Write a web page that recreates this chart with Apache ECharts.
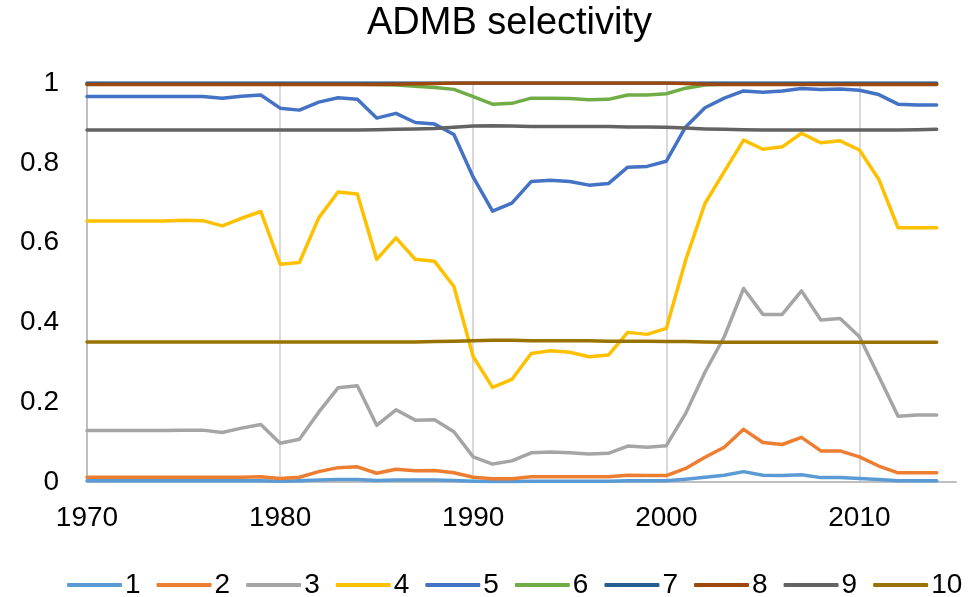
<!DOCTYPE html>
<html>
<head>
<meta charset="utf-8">
<title>ADMB selectivity</title>
<script src="https://cdn.jsdelivr.net/npm/echarts@6/dist/echarts.min.js"></script>
<style>
body { margin: 0; padding: 0; background: #fff; }
#main { width: 971px; height: 597px; }
</style>
</head>
<body>
<div id="main"></div>
<script>
// years on the x axis
var years = [1970,1971,1972,1973,1974,1975,1976,1977,1978,1979,
             1980,1981,1982,1983,1984,1985,1986,1987,1988,1989,
             1990,1991,1992,1993,1994,1995,1996,1997,1998,1999,
             2000,2001,2002,2003,2004,2005,2006,2007,2008,2009,
             2010,2011,2012,2013,2014];

// selectivity per age
var age1 = [0.003,0.003,0.003,0.003,0.003,0.003,0.003,0.003,0.003,0.003,
            0.002,0.003,0.005,0.006,0.006,0.004,0.005,0.005,0.005,0.004,
            0.002,0.001,0.001,0.002,0.002,0.002,0.002,0.002,0.003,0.003,
            0.003,0.007,0.012,0.017,0.026,0.017,0.016,0.018,0.011,0.011,
            0.009,0.006,0.003,0.003,0.003];
var age2 = [0.012,0.012,0.012,0.012,0.012,0.012,0.012,0.012,0.012,0.013,
            0.009,0.012,0.026,0.036,0.038,0.022,0.032,0.028,0.029,0.023,
            0.012,0.008,0.008,0.013,0.013,0.013,0.013,0.013,0.017,0.016,
            0.016,0.034,0.062,0.087,0.132,0.099,0.094,0.112,0.078,0.078,
            0.063,0.040,0.023,0.023,0.023];
var age3 = [0.129,0.129,0.129,0.129,0.129,0.130,0.130,0.124,0.135,0.144,
            0.097,0.107,0.175,0.236,0.241,0.142,0.181,0.155,0.156,0.126,
            0.063,0.045,0.053,0.073,0.075,0.073,0.070,0.072,0.090,0.087,
            0.091,0.172,0.275,0.364,0.485,0.420,0.420,0.479,0.406,0.410,
            0.364,0.265,0.165,0.168,0.168];
var age4 = [0.654,0.654,0.654,0.654,0.654,0.656,0.655,0.642,0.661,0.678,
            0.546,0.550,0.662,0.727,0.722,0.558,0.612,0.558,0.553,0.490,
            0.314,0.237,0.257,0.322,0.329,0.325,0.314,0.318,0.375,0.370,
            0.385,0.556,0.698,0.778,0.857,0.834,0.840,0.874,0.850,0.855,
            0.832,0.759,0.637,0.637,0.637];
var age5 = [0.966,0.966,0.966,0.966,0.966,0.966,0.966,0.962,0.967,0.970,
            0.937,0.932,0.952,0.963,0.959,0.912,0.924,0.901,0.897,0.871,
            0.764,0.679,0.699,0.753,0.756,0.753,0.744,0.748,0.789,0.791,
            0.804,0.890,0.938,0.962,0.980,0.977,0.980,0.986,0.984,0.985,
            0.982,0.971,0.947,0.945,0.945];
var age6 = [0.997,0.997,0.997,0.997,0.997,0.997,0.997,0.997,0.997,0.997,
            0.997,0.997,0.997,0.997,0.997,0.996,0.995,0.992,0.989,0.984,
            0.966,0.947,0.949,0.962,0.962,0.961,0.958,0.959,0.970,0.970,
            0.973,0.987,0.995,0.997,0.997,0.997,0.997,0.997,0.997,0.997,
            0.997,0.997,0.997,0.997,0.997];
var age7 = [1,1,1,1,1,1,1,1,1,1,
            1,1,1,1,1,1,1,1,1,1,
            1,1,1,1,1,1,1,1,1,1,
            1,1,1,1,1,1,1,1,1,1,
            1,1,1,1,1];
var age8 = [0.996,0.996,0.996,0.996,0.996,0.996,0.996,0.996,0.996,0.996,
            0.996,0.996,0.996,0.996,0.996,0.996,0.997,0.998,0.999,1.000,
            1.000,1.000,1.000,1.000,1.000,1.000,1.000,1.000,1.000,1.000,
            1.000,0.999,0.997,0.996,0.996,0.996,0.996,0.996,0.996,0.996,
            0.996,0.996,0.996,0.996,0.996];
var age9 = [0.882,0.882,0.882,0.882,0.882,0.882,0.882,0.882,0.882,0.882,
            0.882,0.882,0.882,0.882,0.882,0.883,0.884,0.885,0.886,0.889,
            0.892,0.893,0.892,0.891,0.891,0.891,0.891,0.891,0.890,0.890,
            0.889,0.887,0.885,0.884,0.883,0.882,0.882,0.882,0.882,0.882,
            0.882,0.882,0.882,0.883,0.884];
var age10 = [0.351,0.351,0.351,0.351,0.351,0.351,0.351,0.351,0.351,0.351,
             0.351,0.351,0.351,0.351,0.351,0.351,0.351,0.351,0.352,0.353,
             0.354,0.355,0.355,0.354,0.354,0.354,0.354,0.353,0.353,0.353,
             0.352,0.352,0.351,0.350,0.350,0.350,0.350,0.350,0.350,0.350,
             0.350,0.350,0.350,0.350,0.350];

var names = ['1','2','3','4','5','6','7','8','9','10'];
var colors = ['#5B9BD5','#ED7D31','#A5A5A5','#FFC000','#4472C4',
              '#70AD47','#255E91','#9E480E','#636363','#997300'];
var allAges = [age1,age2,age3,age4,age5,age6,age7,age8,age9,age10];

var fontName = '"Liberation Sans", Arial, sans-serif';

var series = [];
for (var k = 0; k < allAges.length; k++) {
    var pts = [];
    for (var i = 0; i < years.length; i++) {
        pts.push([years[i], allAges[k][i]]);
    }
    series.push({
        name: names[k],
        type: 'line',
        data: pts,
        showSymbol: false,
        symbol: 'none',
        lineStyle: { width: 3.5, color: colors[k], cap: 'round', join: 'round' },
        itemStyle: { color: colors[k] }
    });
}

var chart = echarts.init(document.getElementById('main'));
var option = {
    animation: false,
    title: {
        text: 'ADMB selectivity',
        left: 367,
        top: 5,
        padding: 0,
        textStyle: { fontFamily: fontName, fontSize: 38, fontWeight: 'normal', color: '#000', lineHeight: 37 }
    },
    legend: {
        data: names,
        left: 62,
        top: 566,
        icon: 'roundRect',
        itemWidth: 55,
        itemHeight: 4,
        itemGap: 16,
        textStyle: { fontFamily: fontName, fontSize: 28, color: '#000', padding: [0, 0, 0, -2] }
    },
    grid: { left: 87, right: 15, top: 83, bottom: 115 },
    xAxis: {
        type: 'value',
        min: 1970,
        max: 2015,
        interval: 10,
        axisLine: { lineStyle: { color: '#BFBFBF', width: 2 } },
        axisTick: { show: false },
        axisLabel: {
            fontFamily: fontName, fontSize: 28, color: '#000', margin: 22,
            showMaxLabel: false,
            formatter: function (v) { return String(v); }
        },
        splitLine: { show: true, showMinLine: false, showMaxLine: false, lineStyle: { color: '#D9D9D9', width: 2 } }
    },
    yAxis: {
        type: 'value',
        min: 0,
        max: 1,
        interval: 0.2,
        axisLine: { show: true, lineStyle: { color: '#BFBFBF', width: 2 } },
        axisTick: { show: false },
        axisLabel: { fontFamily: fontName, fontSize: 28, color: '#000', margin: 28 },
        splitLine: { show: false }
    },
    series: series
};
chart.setOption(option);
</script>
</body>
</html>
